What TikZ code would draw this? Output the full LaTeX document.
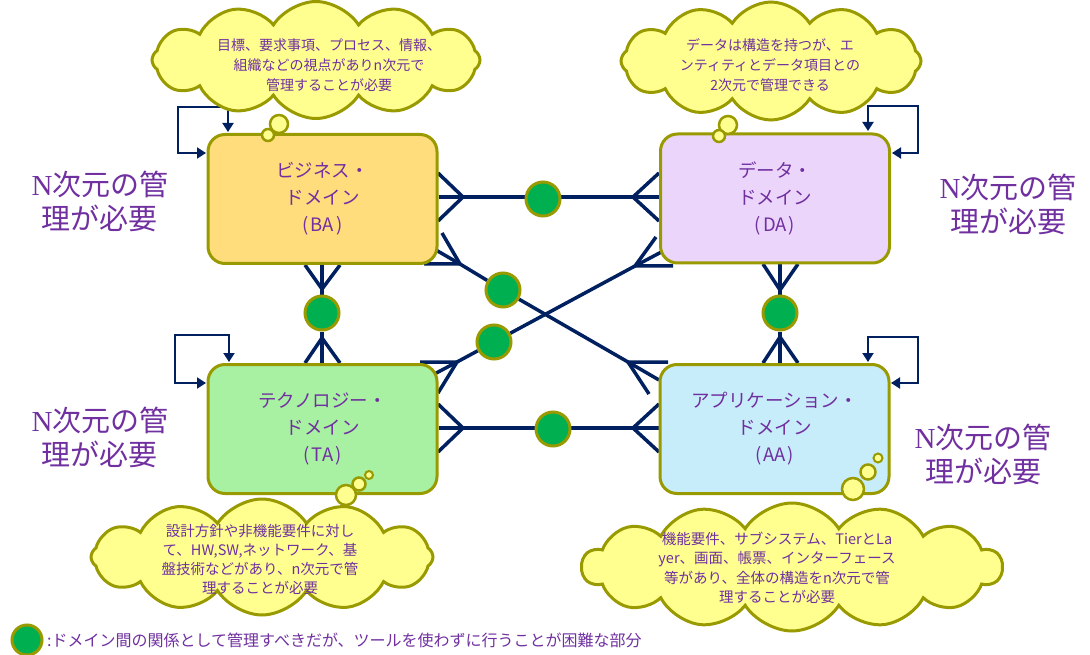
\documentclass[tikz,border=0pt]{standalone}
\usepackage{fontspec}
\usetikzlibrary{shapes.symbols,arrows.meta,calc}
\newfontfamily\jp{Noto Sans CJK JP}
\newfontfamily\nserif{Liberation Serif}
\definecolor{navy}{HTML}{002060}
\definecolor{olivebd}{HTML}{999900}
\definecolor{relgreen}{HTML}{00B050}
\definecolor{txtpurple}{HTML}{7030A0}
\definecolor{cloudy}{HTML}{FFFF8F}
\definecolor{bafill}{HTML}{FFDD7C}
\definecolor{dafill}{HTML}{ECD5FB}
\definecolor{tafill}{HTML}{A9F1A2}
\definecolor{aafill}{HTML}{C8EDFA}
\pgfdeclarelayer{back}
\pgfsetlayers{back,main}
\begin{document}
\begin{tikzpicture}[x=1pt,y=-1pt,
 dombox/.style={draw=olivebd, line width=3pt, rounded corners=17pt, minimum width=229pt, minimum height=129pt, inner sep=0pt,
   text=txtpurple, font=\jp\fontsize{18.5}{27}\selectfont, align=center},
 rel/.style={draw=navy, line width=3.5pt},
 loopline/.style={draw=navy, line width=2pt, {Triangle[length=9pt,width=11pt]}-{Triangle[length=9pt,width=11pt]}},
 relpt/.style={circle, fill=relgreen, draw=olivebd, line width=3pt, minimum size=34pt, inner sep=0pt},
 thought/.style={cloud, cloud puffs=12, cloud puff arc=115, cloud ignores aspect, fill=cloudy, draw=olivebd, line width=3pt, inner sep=0pt},
 cloudtext/.style={text=txtpurple, font=\jp\fontsize{14}{20}\selectfont, align=center},
 bubble/.style={circle, fill=cloudy, draw=olivebd, line width=2.5pt, inner sep=0pt},
 nlabel/.style={text=txtpurple, font=\jp\fontsize{29}{34}\selectfont, align=center},
]
\useasboundingbox (0,0) rectangle (1090,655);

% ---------- domain boxes ----------
\node[dombox, fill=bafill] (BA) at (322.5,199) {ビジネス・\\ドメイン\\(\kern2pt BA\kern2pt)};
\node[dombox, fill=dafill] (DA) at (775,198.5) {データ・\\ドメイン\\(\kern2pt DA\kern2pt)};
\node[dombox, fill=tafill] (TA) at (322.5,429) {テクノロジー・\\ドメイン\\(\kern2pt TA\kern2pt)};
\node[dombox, fill=aafill] (AA) at (774.5,429) {アプリケーション・\\ドメイン\\(\kern2pt AA\kern2pt)};

% ---------- relation points ----------
\node[relpt] (r1) at (543,199) {};
\node[relpt] (r2) at (553,429) {};
\node[relpt] (r3) at (322,313) {};
\node[relpt] (r4) at (780,313) {};
\node[relpt] (r5) at (503,290) {};
\node[relpt] (r6) at (494,342) {};

% ---------- crow's foot junctions ----------
\coordinate (j1) at (463,197); \coordinate (j2) at (633,197);
\coordinate (j3) at (463,428); \coordinate (j4) at (633,428);
\coordinate (j5) at (322,289); \coordinate (j6) at (322,338);
\coordinate (j7) at (780,290); \coordinate (j8) at (780,337);
\coordinate (j9) at (460,264); \coordinate (j10) at (628,362);
\coordinate (j11) at (457,362); \coordinate (j12) at (635,266);

\begin{pgfonlayer}{back}
% BA - DA
\draw[rel] (BA.east |- j1) -- (j1) -- (j2) -- (DA.west |- j2);
\draw[rel] (438,173) -- (j1) -- (438,221);
\draw[rel] (659,173) -- (j2) -- (659,221);
% TA - AA
\draw[rel] (TA.east |- j3) -- (j3) -- (j4) -- (AA.west |- j4);
\draw[rel] (438,404) -- (j3) -- (438,452);
\draw[rel] (659,404) -- (j4) -- (659,452);
% BA - TA
\draw[rel] (BA.south -| j5) -- (r3) -- (TA.north -| j6);
\draw[rel] (305,265) -- (j5) -- (340,265);
\draw[rel] (305,363) -- (j6) -- (340,363);
% DA - AA
\draw[rel] (DA.south -| j7) -- (r4) -- (AA.north -| j8);
\draw[rel] (763,264) -- (j7) -- (798,264);
\draw[rel] (763,363) -- (j8) -- (798,363);
% BA - AA diagonal
\draw[rel] (j9) -- (r5) -- (j10);
\draw[rel] (424,264) -- (j9) -- (442,233);
\draw[rel] (j9) -- (429,246);
\draw[rel] (668,362) -- (j10) -- (649,394);
\draw[rel] (j10) -- (659,380);
% TA - DA diagonal
\draw[rel] (j11) -- (r6) -- (j12);
\draw[rel] (420,362) -- (j11) -- (438,393);
\draw[rel] (j11) -- (425,379);
\draw[rel] (673,266) -- (j12) -- (656,237);
\draw[rel] (j12) -- (667,249);
% self loops
\draw[loopline] (228,132) -- (228,107) -- (178,107) -- (178,153) -- (206,153);
\draw[loopline] (868,131) -- (868,106) -- (918,106) -- (918,153) -- (892,153);
\draw[loopline] (229,362) -- (229,335) -- (175,335) -- (175,383) -- (206,383);
\draw[loopline] (868,362) -- (868,337) -- (918,337) -- (918,383) -- (891,383);
\end{pgfonlayer}

% ---------- clouds ----------
\node[thought, minimum width=328pt, minimum height=117pt] (c1) at (316,60) {};
\node[cloudtext] (c1t) at (329,65) {目標、要求事項、プロセス、情報、\\組織などの視点があり{n}次元で\\管理することが必要};
\node[bubble, minimum size=18pt] (b11) at (279,124) {};
\node[bubble, minimum size=12pt] (b12) at (268,135) {};

\node[thought, minimum width=300pt, minimum height=118pt] (c2) at (771,61) {};
\node[cloudtext] (c2t) at (770,65) {データは構造を持つが、エ\\ンティティとデータ項目との\\2次元で管理できる};
\node[bubble, minimum size=18pt] (b21) at (728,125) {};
\node[bubble, minimum size=12pt] (b22) at (719,136) {};

\node[thought, minimum width=342pt, minimum height=116pt] (c3) at (262,557) {};
\node[cloudtext, font=\jp\fontsize{14.5}{19}\selectfont] (c3t) at (260,559) {設計方針や非機能要件に対し\\て、HW,SW,ネットワーク、基\\盤技術などがあり、n次元で管\\理することが必要};
\node[bubble, minimum size=20pt] (b31) at (346,495) {};
\node[bubble, minimum size=13pt] (b32) at (359,484) {};
\node[bubble, minimum size=8pt, line width=2pt] (b33) at (369,475) {};

\node[thought, cloud puffs=14, minimum width=420pt, minimum height=128pt] (c4) at (792,567) {};
\node[cloudtext, font=\jp\fontsize{14.5}{19.5}\selectfont] (c4t) at (777,568) {機能要件、サブシステム、TierとLa\\yer、画面、帳票、インターフェース\\等があり、全体の構造をn次元で管\\理することが必要};
\node[bubble, minimum size=22pt] (b41) at (853,489) {};
\node[bubble, minimum size=15pt] (b42) at (868,472) {};
\node[bubble, minimum size=9pt, line width=2pt] (b43) at (878,458) {};

% ---------- N-dimension labels ----------
\node[nlabel] (n1) at (100,201) {{\nserif N}次元の管\\理が必要};
\node[nlabel] (n2) at (100,437) {{\nserif N}次元の管\\理が必要};
\node[nlabel] (n3) at (1008,204) {{\nserif N}次元の管\\理が必要};
\node[nlabel] (n4) at (983,454) {{\nserif N}次元の管\\理が必要};

% ---------- legend ----------
\node[relpt, minimum size=30pt] (leg) at (27,640) {};
\node[anchor=west, text=txtpurple, font=\jp\fontsize{16}{18}\selectfont, inner sep=0pt] (legt) at (47,640) {:ドメイン間の関係として管理すべきだが、ツールを使わずに行うことが困難な部分};
\end{tikzpicture}
\end{document}
